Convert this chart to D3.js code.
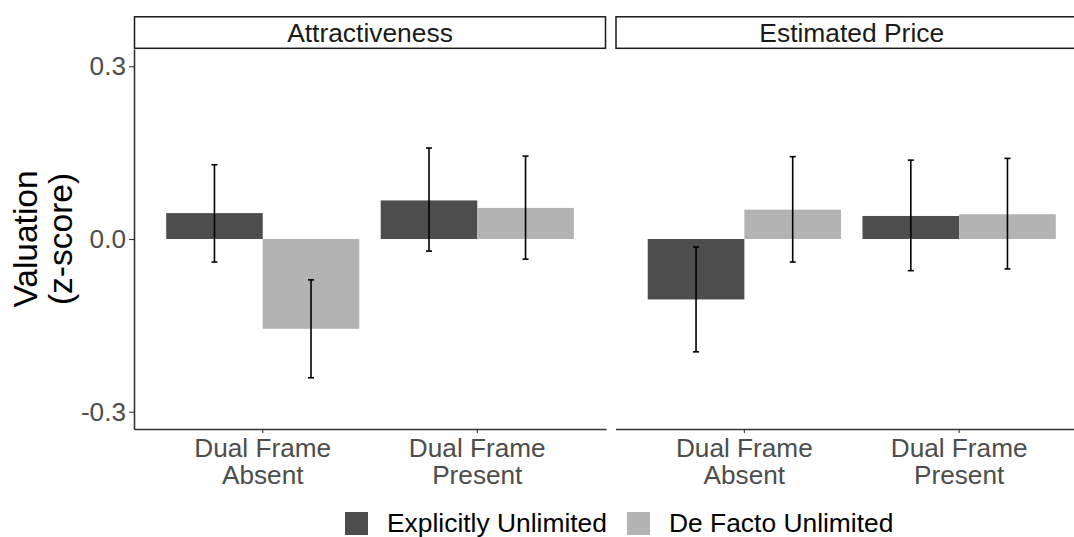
<!DOCTYPE html>
<html><head><meta charset="utf-8">
<script src="https://cdn.jsdelivr.net/npm/d3@7"></script>
<style>
body{margin:0;background:#fff;}
svg{display:block;font-family:"Liberation Sans",Arial,sans-serif;}
</style></head>
<body><svg id="c" width="1074" height="537"></svg>
<script>
const panels = ["Attractiveness", "Estimated Price"];
const categories = ["Dual Frame\nAbsent", "Dual Frame\nPresent"];
const seriesNames = ["Explicitly Unlimited", "De Facto Unlimited"];
// values[panel][category] per series
const explicitMean = [[0.045, 0.067], [-0.105, 0.040]];
const explicitLow  = [[-0.040, -0.021], [-0.196, -0.055]];
const explicitHigh = [[0.129, 0.158], [-0.014, 0.137]];
const defactoMean  = [[-0.156, 0.054], [0.051, 0.043]];
const defactoLow   = [[-0.241, -0.035], [-0.040, -0.052]];
const defactoHigh  = [[-0.071, 0.144], [0.143, 0.140]];
const yTicks = [-0.3, 0.0, 0.3];
const colors = ["#4d4d4d", "#b3b3b3"];

const svg = d3.select("#c");
const plotTop = 49, plotBottom = 429;
const panelX = [[134, 606], [615.5, 1088]];
const y = d3.scaleLinear().domain([-0.33, 0.33]).range([plotBottom, plotTop]);

const seriesData = [
  {mean: explicitMean, low: explicitLow, high: explicitHigh},
  {mean: defactoMean, low: defactoLow, high: defactoHigh}
];

panels.forEach((p, pi) => {
  const [x0, x1] = panelX[pi];
  const x = d3.scaleBand().domain(categories).range([x0, x1]).paddingInner(0.1).paddingOuter(0.15);
  const xs = d3.scaleBand().domain(seriesNames).range([0, x.bandwidth()]).padding(0);
  const g = svg.append("g");

  // strip
  g.append("rect").attr("x", x0 + 0.5).attr("y", 16.8).attr("width", x1 - x0 - 1).attr("height", 31.5)
    .attr("fill", "#fff").attr("stroke", "#1a1a1a").attr("stroke-width", 1.5);
  g.append("text").attr("x", (x0 + x1) / 2).attr("y", 41.5).attr("text-anchor", "middle")
    .attr("font-size", 26.4).attr("fill", "#1a1a1a").text(p);

  // bars
  seriesNames.forEach((s, si) => {
    const sd = seriesData[si];
    categories.forEach((c, ci) => {
      const v = sd.mean[pi][ci];
      const bx = x(c) + xs(s);
      g.append("rect").attr("x", bx).attr("width", xs.bandwidth())
        .attr("y", y(Math.max(0, v))).attr("height", Math.abs(y(v) - y(0)))
        .attr("fill", colors[si]);
    });
  });
  // error bars
  seriesNames.forEach((s, si) => {
    const sd = seriesData[si];
    categories.forEach((c, ci) => {
      const cx = x(c) + xs(s) + xs.bandwidth() / 2;
      const lo = y(sd.low[pi][ci]), hi = y(sd.high[pi][ci]);
      const eg = g.append("g").attr("stroke", "#000").attr("stroke-width", 1.6);
      eg.append("line").attr("x1", cx).attr("x2", cx).attr("y1", lo).attr("y2", hi);
      eg.append("line").attr("x1", cx - 3).attr("x2", cx + 3).attr("y1", lo).attr("y2", lo);
      eg.append("line").attr("x1", cx - 3).attr("x2", cx + 3).attr("y1", hi).attr("y2", hi);
    });
  });

  // x axis
  const xa = g.append("g").attr("transform", `translate(0,${plotBottom})`)
    .call(d3.axisBottom(x).tickSize(4).tickSizeOuter(0).tickFormat(""));
  xa.select(".domain").attr("stroke", "#333").attr("stroke-width", 1.6);
  xa.selectAll(".tick line").attr("stroke", "#333").attr("stroke-width", 1.1);
  categories.forEach(c => {
    const lines = c.split("\n");
    const t = g.append("text").attr("text-anchor", "middle").attr("font-size", 26.2).attr("fill", "#4d4d4d");
    lines.forEach((l, li) => {
      t.append("tspan").attr("x", x(c) + x.bandwidth() / 2).attr("y", 456.5 + li * 27).text(l);
    });
  });

  if (pi === 0) {
    const ya = g.append("g").attr("transform", `translate(${x0},0)`)
      .call(d3.axisLeft(y).tickValues(yTicks).tickFormat(d3.format(".1f")).tickSize(5).tickSizeOuter(0));
    ya.select(".domain").attr("stroke", "#333").attr("stroke-width", 1.6);
    ya.selectAll(".tick line").attr("stroke", "#333").attr("stroke-width", 1.1);
    ya.selectAll(".tick text").attr("font-size", 26.2).attr("fill", "#4d4d4d").attr("x", -8)
      .text(d => d3.format(".1f")(d).replace("−", "-"));
  }
});

// y title
const yt = svg.append("text").attr("transform", "translate(0,239) rotate(-90)")
  .attr("text-anchor", "middle").attr("font-size", 33.5).attr("fill", "#000");
yt.append("tspan").attr("x", 0).attr("y", 36.5).text("Valuation");
yt.append("tspan").attr("x", 0).attr("y", 71.5).text("(z-score)");

// legend
const legX = [345, 627];
seriesNames.forEach((s, si) => {
  svg.append("rect").attr("x", legX[si]).attr("y", 512).attr("width", 23).attr("height", 23).attr("fill", colors[si]);
  svg.append("text").attr("x", legX[si] + 42).attr("y", 531.5).attr("font-size", 26.4).attr("fill", "#000").text(s);
});
</script></body></html>
